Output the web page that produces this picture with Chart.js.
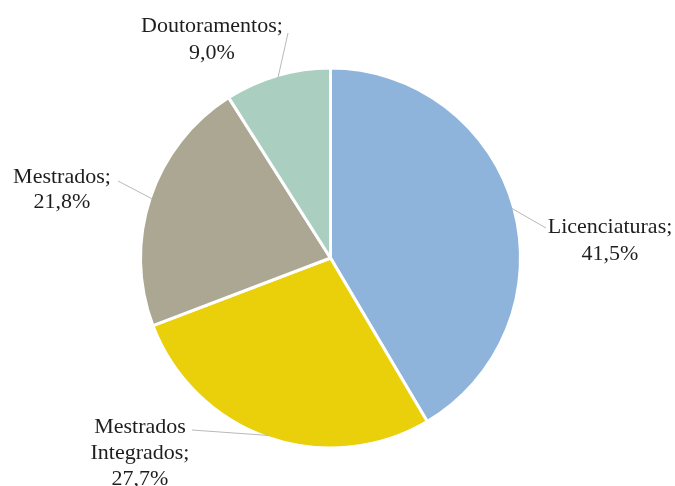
<!DOCTYPE html>
<html>
<head>
<meta charset="utf-8">
<script src="https://cdn.jsdelivr.net/npm/chart.js@4/dist/chart.umd.min.js"></script>
<style>
  html, body { margin: 0; padding: 0; background: #ffffff; }
  #wrap { width: 675px; height: 486px; position: relative; }
</style>
</head>
<body>
<div id="wrap"><canvas id="c" width="675" height="486"></canvas></div>
<script>
// Distribution of degrees by cycle of study (%)
const categories = ['Licenciaturas', 'Mestrados Integrados', 'Mestrados', 'Doutoramentos'];
const shares = [41.5, 27.7, 21.8, 9.0];
const labelLines = [
  ['Licenciaturas;', '41,5%'],
  ['Mestrados', 'Integrados;', '27,7%'],
  ['Mestrados;', '21,8%'],
  ['Doutoramentos;', '9,0%']
];
const sliceColors = ['#8fb4dc', '#e9d00a', '#aba792', '#aacfc1'];

// Label placement: text block centre x, first baseline, line step,
// and where the leader line meets the text
const labelLayout = [
  { x: 610, y: 233, step: 27, lx: 546, ly: 228 },
  { x: 140, y: 433, step: 26, lx: 192, ly: 430 },
  { x: 62,  y: 183, step: 25, lx: 118, ly: 181 },
  { x: 212, y: 32,  step: 27, lx: 288, ly: 33 }
];

const calloutPlugin = {
  id: 'callouts',
  afterDatasetsDraw(chart) {
    const ctx = chart.ctx;
    const meta = chart.getDatasetMeta(0);
    ctx.save();
    meta.data.forEach((arc, i) => {
      const p = arc.getProps(['x', 'y', 'startAngle', 'endAngle', 'outerRadius'], true);
      const mid = (p.startAngle + p.endAngle) / 2;
      const ex = p.x + Math.cos(mid) * (p.outerRadius - 2);
      const ey = p.y + Math.sin(mid) * (p.outerRadius - 2);
      const L = labelLayout[i];
      ctx.strokeStyle = '#b8b8b8';
      ctx.lineWidth = 1;
      ctx.beginPath();
      ctx.moveTo(L.lx, L.ly);
      ctx.lineTo(ex, ey);
      ctx.stroke();

      ctx.fillStyle = '#1e1e1e';
      ctx.font = '22px "Liberation Serif", "Times New Roman", serif';
      ctx.textAlign = 'center';
      ctx.textBaseline = 'alphabetic';
      labelLines[i].forEach((t, k) => {
        ctx.fillText(t, L.x, L.y + k * L.step);
      });
    });
    ctx.restore();
  }
};

new Chart(document.getElementById('c'), {
  type: 'pie',
  data: {
    labels: categories,
    datasets: [{
      data: shares,
      backgroundColor: sliceColors,
      borderColor: '#ffffff',
      borderWidth: 3
    }]
  },
  options: {
    responsive: false,
    animation: false,
    layout: { padding: { left: 139, right: 153, top: 66, bottom: 36 } },
    plugins: {
      legend: { display: false },
      tooltip: { enabled: false }
    }
  },
  plugins: [calloutPlugin]
});
</script>
</body>
</html>
